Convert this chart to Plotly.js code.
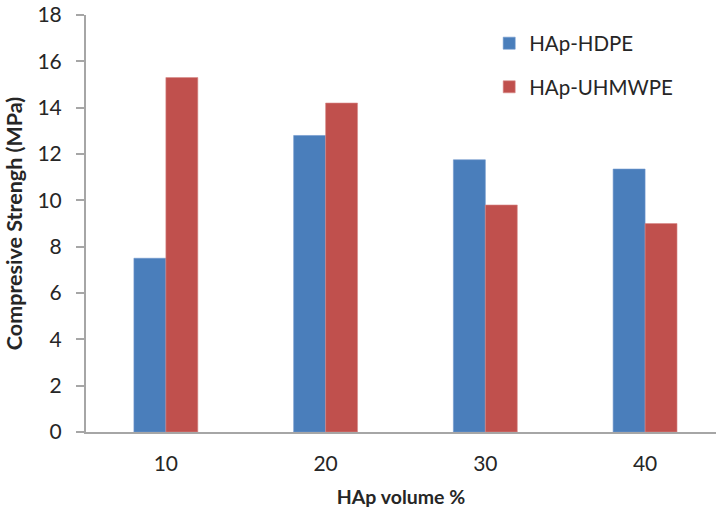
<!DOCTYPE html>
<html><head><meta charset="utf-8">
<script src="https://cdn.plot.ly/plotly-3.0.1.min.js"></script>
<style>html,body{margin:0;padding:0;overflow:hidden;background:#fff}</style>
</head><body><div id="chart" style="width:716px;height:514px"></div>
<script>
const categories = ["10", "20", "30", "40"];
const hdpe = [7.5, 12.8, 11.75, 11.35];
const uhmwpe = [15.3, 14.2, 9.8, 9.0];
const seriesNames = ["HAp-HDPE", "HAp-UHMWPE"];

const font = "Lato, 'Open Sans', sans-serif";
const data = [
  {type: "bar", name: seriesNames[0], x: categories, y: hdpe, legendgroup: "a",
   marker: {color: "#4A7EBB", line: {color: "#6F97CC", width: 0.6}}},
  {type: "bar", name: seriesNames[1], x: categories, y: uhmwpe, legendgroup: "b",
   marker: {color: "#C0504D", line: {color: "#D98A88", width: 0.6}}}
];
const layout = {
  width: 716, height: 514,
  margin: {l: 86, r: 0, t: 15, b: 82},
  paper_bgcolor: "#fff", plot_bgcolor: "#fff",
  barmode: "group", bargap: 0.6, bargroupgap: 0,
  font: {family: font, size: 21, color: "#262626"},
  xaxis: {type: "category", range: [-0.5, 3.444], showline: true, linecolor: "#A6A6A6", linewidth: 2,
    ticks: "", showgrid: false, zeroline: false, ticklabelstandoff: 12,
    tickfont: {size: 21},
    title: {text: "<b>HAp volume %</b>", font: {size: 19.5, family: font, color: "#262626"}, standoff: 16}},
  yaxis: {range: [0, 18], dtick: 2, showline: true, linecolor: "#A6A6A6", linewidth: 2,
    ticks: "outside", ticklen: 8, tickwidth: 2, tickcolor: "#A6A6A6", showgrid: false, zeroline: false,
    ticklabelstandoff: 10, tickfont: {size: 21},
    title: {text: "<b>Compresive Strengh (MPa)</b>", font: {size: 21.5, family: font, color: "#262626"}, standoff: 9}},
  legend: {x: 0.64, y: 0.98, xanchor: "left", yanchor: "top", bgcolor: "rgba(0,0,0,0)",
    font: {size: 20.5, family: font, color: "#262626"}, tracegroupgap: 14, itemwidth: 30, traceorder: "grouped"},
  showlegend: true
};
Plotly.newPlot("chart", data, layout, {displayModeBar: false, staticPlot: true});
</script></body></html>
